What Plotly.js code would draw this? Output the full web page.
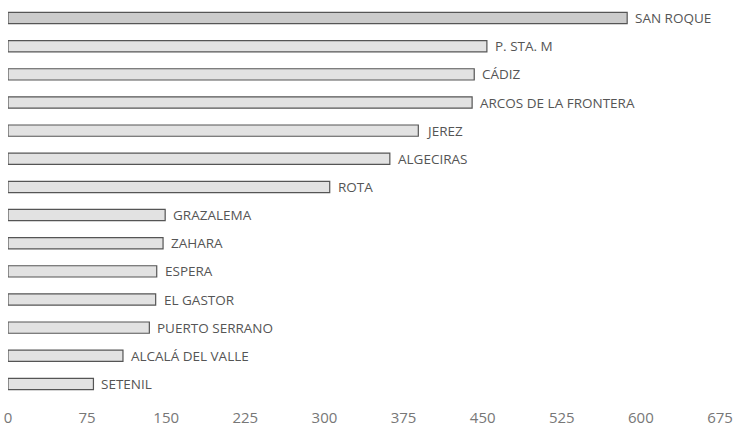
<!DOCTYPE html>
<html>
<head>
<meta charset="utf-8">
<script src="https://cdn.plot.ly/plotly-3.0.1.min.js"></script>
<style>html,body{margin:0;padding:0;background:#fff;}#chart{width:734px;height:430px;}</style>
</head>
<body>
<div id="chart"></div>
<script>
const municipalities = ["SAN ROQUE","P. STA. M","CÁDIZ","ARCOS DE LA FRONTERA","JEREZ","ALGECIRAS","ROTA","GRAZALEMA","ZAHARA","ESPERA","EL GASTOR","PUERTO SERRANO","ALCALÁ DEL VALLE","SETENIL"];
const values = [587, 454, 442, 440, 389, 362, 305, 149, 147, 141, 140, 134, 109, 81];
const tickValues = [0,75,150,225,300,375,450,525,600,675];
const tickLabels = ["0","75","150","225","300","375","450","525","600","675"];

const fills = municipalities.map((m,i)=> i===0 ? "#cbcbcb" : "#e2e2e2");

const trace = {
  type: "bar",
  orientation: "h",
  y: municipalities,
  x: values,
  cliponaxis: false,
  marker: {color: fills, line: {color: "#555555", width: 1.2}},
  width: 0.4,
  hoverinfo: "none"
};

const annotations = municipalities.map((m,i)=>({
  x: values[i], y: m, xref: "x", yref: "y",
  text: m, showarrow: false, xanchor: "left", yanchor: "middle",
  xshift: 6,
  font: {family: "Open Sans, Lato, sans-serif", size: 13.5, color: "#555555"}
}));

const layout = {
  width: 734, height: 430,
  margin: {l: 8, r: 14, t: 4, b: 32},
  paper_bgcolor: "#ffffff",
  plot_bgcolor: "#ffffff",
  showlegend: false,
  annotations: annotations,
  xaxis: {
    range: [0, 675],
    tickvals: tickValues,
    ticktext: tickLabels,
    showgrid: false, zeroline: false, showline: false,
    ticks: "",
    automargin: false,
    tickfont: {family: "Open Sans, Lato, sans-serif", size: 15, color: "#777777"},
    ticklabelstandoff: 9,
    fixedrange: true
  },
  yaxis: {
    autorange: "reversed",
    showticklabels: false,
    showgrid: false, zeroline: false, showline: false,
    ticks: "",
    fixedrange: true
  }
};

Plotly.newPlot("chart", [trace], layout, {displayModeBar: false, staticPlot: true});
</script>
</body>
</html>
